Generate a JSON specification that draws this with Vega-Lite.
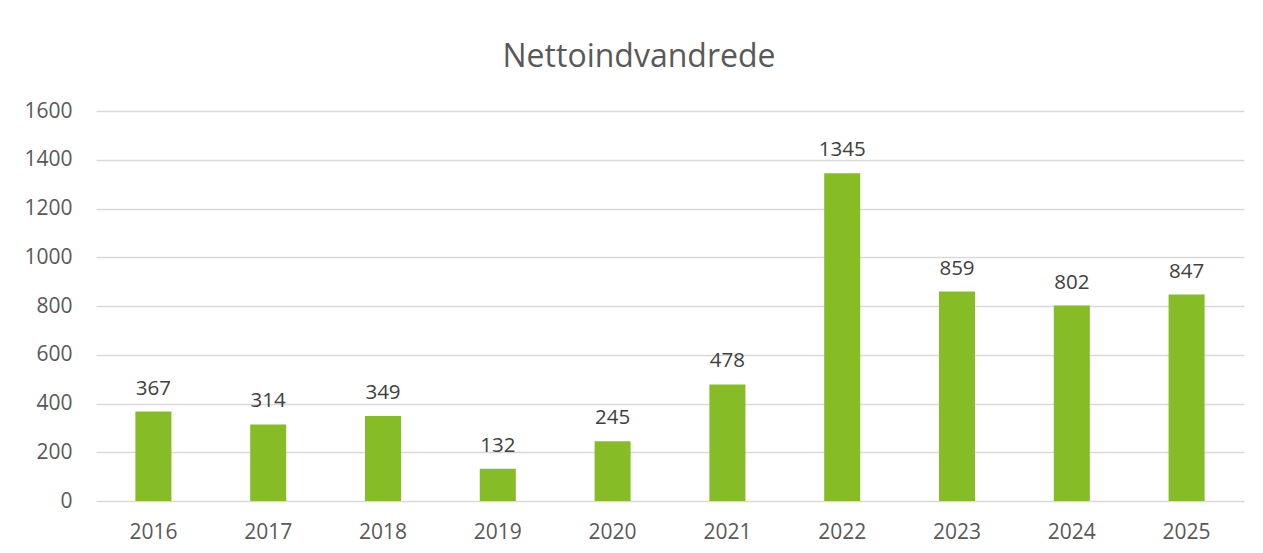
{
  "$schema": "https://vega.github.io/schema/vega-lite/v6.json",
  "width": 1148,
  "height": 390,
  "autosize": {"type": "none"},
  "padding": {"left": 96, "top": 111, "right": 19, "bottom": 52},
  "background": "white",
  "title": {
    "text": "Nettoindvandrede",
    "font": "Open Sans",
    "fontSize": 32,
    "fontWeight": "normal",
    "color": "#595959",
    "anchor": "middle",
    "frame": "bounds",
    "baseline": "alphabetic",
    "offset": 1,
    "dx": 5
  },
  "config": {
    "view": {"stroke": null},
    "font": "Open Sans"
  },
  "data": {
    "values": [
      {"year": "2016", "value": 367},
      {"year": "2017", "value": 314},
      {"year": "2018", "value": 349},
      {"year": "2019", "value": 132},
      {"year": "2020", "value": 245},
      {"year": "2021", "value": 478},
      {"year": "2022", "value": 1345},
      {"year": "2023", "value": 859},
      {"year": "2024", "value": 802},
      {"year": "2025", "value": 847}
    ]
  },
  "encoding": {
    "x": {
      "field": "year",
      "type": "ordinal",
      "scale": {"paddingInner": 0, "paddingOuter": 0},
      "axis": {
        "title": null,
        "labelAngle": 0,
        "labelFont": "Open Sans",
        "labelFontSize": 21,
        "labelColor": "#595959",
        "labelPadding": 20,
        "ticks": false,
        "domain": false
      }
    },
    "y": {
      "field": "value",
      "type": "quantitative",
      "scale": {"domain": [0, 1600], "nice": false},
      "axis": {
        "title": null,
        "values": [0, 200, 400, 600, 800, 1000, 1200, 1400, 1600],
        "format": "d",
        "labelFont": "Open Sans",
        "labelFontSize": 21,
        "labelColor": "#595959",
        "labelPadding": 24,
        "ticks": false,
        "domain": false,
        "gridColor": "#d9d9d9",
        "gridWidth": 1.5
      }
    }
  },
  "layer": [
    {
      "mark": {"type": "bar", "size": 36, "color": "#86bc25"}
    },
    {
      "mark": {
        "type": "text",
        "baseline": "alphabetic",
        "dy": -17,
        "font": "Open Sans",
        "fontSize": 20.5,
        "color": "#404040"
      },
      "encoding": {"text": {"field": "value", "type": "quantitative", "format": "d"}}
    }
  ]
}
